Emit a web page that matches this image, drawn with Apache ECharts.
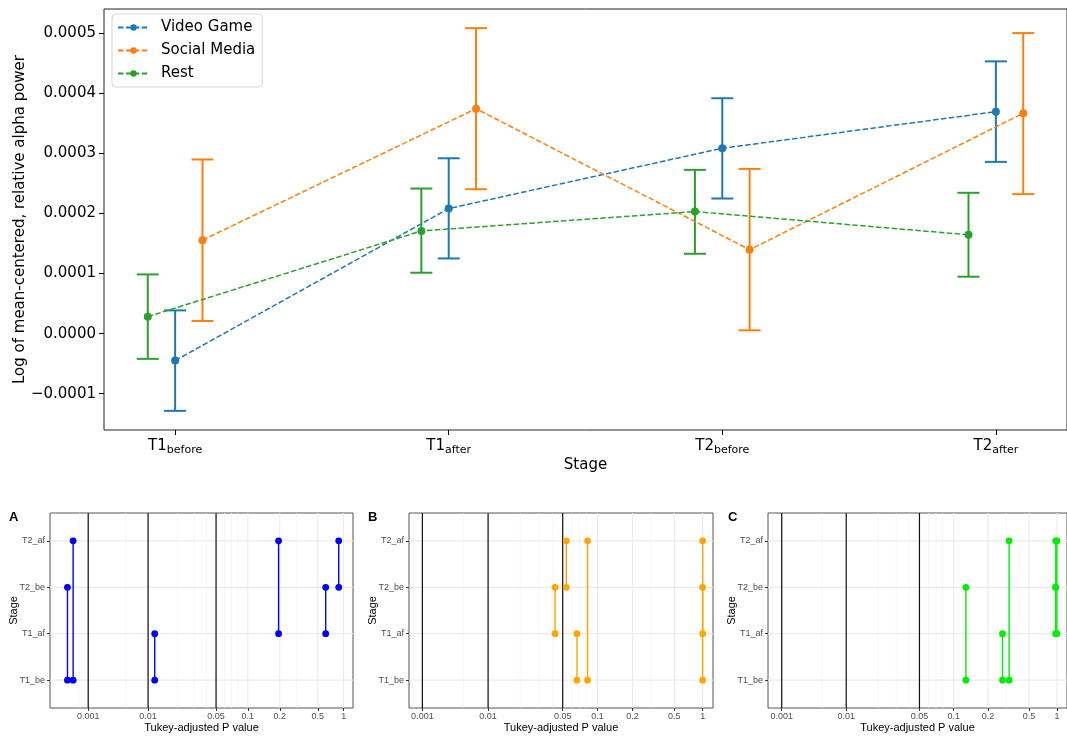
<!DOCTYPE html>
<html><head><meta charset="utf-8">
<script src="https://cdn.jsdelivr.net/npm/echarts@6/dist/echarts.min.js"></script>
<style>html,body{margin:0;padding:0;background:#fff}#c{width:1067px;height:740px}</style>
</head><body><div id="c"></div>
<script>
// ---------- top panel data ----------
const stageMain = ['T1', 'T1', 'T2', 'T2'];
const stageSub = ['before', 'after', 'before', 'after'];
const yTicks = [-0.0001, 0, 0.0001, 0.0002, 0.0003, 0.0004, 0.0005];
const groupNames = ['Video Game', 'Social Media', 'Rest'];

const videoMean = [-0.0000449, 0.0002083, 0.0003087, 0.0003696];
const videoLow  = [-0.0001286, 0.0001252, 0.0002250, 0.0002860];
const videoHigh = [ 0.0000387, 0.0002920, 0.0003920, 0.0004534];

const socialMean = [0.0001557, 0.0003746, 0.0001397, 0.0003670];
const socialLow  = [0.0000211, 0.0002405, 0.0000055, 0.0002323];
const socialHigh = [0.0002900, 0.0005087, 0.0002743, 0.0005005];

const restMean = [ 0.0000283, 0.0001710, 0.0002033, 0.0001646];
const restLow  = [-0.0000420, 0.0001014, 0.0001330, 0.0000948];
const restHigh = [ 0.0000986, 0.0002416, 0.0002727, 0.0002345];

// ---------- bottom panels data ----------
const stageCodes = ['T1_be', 'T1_af', 'T2_be', 'T2_af'];
const pairFrom = ['T1_be', 'T1_be', 'T1_be', 'T1_af', 'T1_af', 'T2_be'];
const pairTo   = ['T1_af', 'T2_be', 'T2_af', 'T2_be', 'T2_af', 'T2_af'];
const pVideo  = [0.0117, 0.00045, 0.00056, 0.618, 0.195, 0.877];
const pSocial = [0.0664, 0.998, 0.082, 0.0424, 0.999, 0.0537];
const pRest   = [0.276, 0.128, 0.320, 0.969, 1.0, 0.972];
const pTicks = [0.001, 0.01, 0.05, 0.1, 0.2, 0.5, 1];
const pTickLabels = ['0.001', '0.01', '0.05', '0.1', '0.2', '0.5', '1'];
const pThresholds = [0.001, 0.01, 0.05];
const pMinor = [0.000725, 0.0042, 0.02, 0.03, 0.04, 0.06, 0.07, 0.08, 0.3];
const panelLetters = ['A', 'B', 'C'];

// ---------- P-value scale (piecewise log transform of the original figure) ----------
const scaleAnchorsP = [0.001, 0.01, 0.05, 0.1, 0.2, 0.5, 1];
const scaleAnchorsT = [0, 65.8, 140.5, 175.4, 210.5, 252.3, 280.7];
function T(p) {
  const lp = Math.log10(p);
  const la = scaleAnchorsP.map(Math.log10);
  let k = 0;
  if (lp <= la[0]) k = 0;
  else if (lp >= la[la.length - 1]) k = la.length - 2;
  else { while (k < la.length - 2 && lp > la[k + 1]) k++; }
  const f = (lp - la[k]) / (la[k + 1] - la[k]);
  return scaleAnchorsT[k] + f * (scaleAnchorsT[k + 1] - scaleAnchorsT[k]);
}

const chart = echarts.init(document.getElementById('c'), null, {renderer: 'canvas'});
const DJ = 'DejaVu Sans';
const LS = 'Liberation Sans, Arial, sans-serif';

const topColors = ['#1f77b4', '#ff7f0e', '#2ca02c'];
const offsets = [0, 0.1, -0.1];
const means = [videoMean, socialMean, restMean];
const lows = [videoLow, socialLow, restLow];
const highs = [videoHigh, socialHigh, restHigh];

const grids = [
  {left: 104, top: 9, width: 970, height: 421, show: true, borderColor: '#222', borderWidth: 1},
  {left: 50, top: 513, width: 303, height: 195, show: true, borderColor: '#555', borderWidth: 1},
  {left: 409, top: 513, width: 304, height: 195, show: true, borderColor: '#555', borderWidth: 1},
  {left: 768, top: 513, width: 304, height: 195, show: true, borderColor: '#555', borderWidth: 1}
];

const xAxes = [{
  gridIndex: 0, type: 'value', min: -0.26, max: 3.26,
  axisLine: {show: false, onZero: false},
  splitLine: {show: false},
  axisTick: {show: true, customValues: [0, 1, 2, 3], length: 5, lineStyle: {color: '#000'}},
  axisLabel: {
    customValues: [0, 1, 2, 3], margin: 7,
    formatter: v => { const i = Math.round(v); return '{m|' + stageMain[i] + '}{s|' + stageSub[i] + '}'; },
    rich: {
      m: {fontSize: 15, fontFamily: DJ, color: '#000'},
      s: {fontSize: 11, fontFamily: DJ, color: '#000', padding: [8, 0, 0, 0]}
    }
  },
  name: 'Stage', nameLocation: 'middle', nameGap: 28, nameMoveOverlap: false,
  nameTextStyle: {fontSize: 15, fontFamily: DJ, color: '#000'}
}];
const yAxes = [{
  gridIndex: 0, type: 'value', min: -0.0001605, max: 0.0005406,
  axisLine: {show: false, onZero: false}, splitLine: {show: false},
  axisTick: {show: true, customValues: yTicks, length: 5, lineStyle: {color: '#000'}},
  axisLabel: {
    customValues: yTicks, margin: 8, fontSize: 15, fontFamily: DJ, color: '#000',
    formatter: v => (v < -1e-12 ? '\u2212' : '') + Math.abs(v).toFixed(4)
  },
  name: 'Log of mean-centered, relative alpha power', nameLocation: 'middle', nameGap: 76, nameMoveOverlap: false,
  nameTextStyle: {fontSize: 15, fontFamily: DJ, color: '#000'}
}];

const panelRanges = [[-42, 291], [-13.4, 291], [-14, 291]];
for (let k = 0; k < 3; k++) {
  xAxes.push({
    gridIndex: k + 1, type: 'value', min: panelRanges[k][0], max: panelRanges[k][1],
    axisLine: {show: false, onZero: false}, splitLine: {show: false},
    axisTick: {show: true, customValues: pTicks.map(T), length: 3, lineStyle: {color: '#333'}},
    axisLabel: {
      customValues: pTicks.map(T), margin: 4, fontSize: 9, fontFamily: LS, color: '#4d4d4d',
      formatter: v => { let best = 0; pTicks.forEach((p, i) => { if (Math.abs(T(p) - v) < Math.abs(T(pTicks[best]) - v)) best = i; }); return pTickLabels[best]; }
    },
    name: 'Tukey-adjusted P value', nameLocation: 'middle', nameGap: 14, nameMoveOverlap: false,
    nameTextStyle: {fontSize: 11, fontFamily: LS, color: '#000'}
  });
  yAxes.push({
    gridIndex: k + 1, type: 'value', min: 0.4, max: 4.6,
    axisLine: {show: false, onZero: false}, splitLine: {show: false},
    axisTick: {show: true, customValues: [1, 2, 3, 4], length: 3, lineStyle: {color: '#333'}},
    axisLabel: {
      customValues: [1, 2, 3, 4], margin: 5, fontSize: 9, fontFamily: LS, color: '#4d4d4d',
      formatter: v => stageCodes[Math.round(v) - 1]
    },
    name: 'Stage', nameLocation: 'middle', nameGap: 31, nameMoveOverlap: false,
    nameTextStyle: {fontSize: 11, fontFamily: LS, color: '#000'}
  });
}

const series = [];
// top: error bars and dashed lines
for (let g = 0; g < 3; g++) {
  const col = topColors[g];
  series.push({
    type: 'custom', name: groupNames[g] + ' error', xAxisIndex: 0, yAxisIndex: 0, z: 2,
    data: lows[g].map((lo, i) => [i + offsets[g], lo, highs[g][i]]),
    renderItem: (params, api) => {
      const x = api.value(0);
      const a = api.coord([x, api.value(1)]);
      const b = api.coord([x, api.value(2)]);
      const st = {stroke: col, lineWidth: 2};
      return {type: 'group', children: [
        {type: 'line', shape: {x1: a[0], y1: a[1], x2: b[0], y2: b[1]}, style: st},
        {type: 'line', shape: {x1: a[0] - 11, y1: a[1], x2: a[0] + 11, y2: a[1]}, style: st},
        {type: 'line', shape: {x1: b[0] - 11, y1: b[1], x2: b[0] + 11, y2: b[1]}, style: st}
      ]};
    }
  });
  series.push({
    type: 'line', name: groupNames[g], xAxisIndex: 0, yAxisIndex: 0, z: 3,
    data: means[g].map((v, i) => [i + offsets[g], v]),
    symbol: 'circle', symbolSize: 8, showSymbol: true,
    lineStyle: {color: col, width: 1.5, type: [5.5, 2.4]},
    itemStyle: {color: col},
    emphasis: {disabled: true}, animation: false
  });
}

// bottom panels
const panelP = [pVideo, pSocial, pRest];
const panelColors = ['#0000ff', '#ffa500', '#00ee00'];
for (let k = 0; k < 3; k++) {
  const ax = k + 1;
  const gridData = [];
  pMinor.forEach(p => gridData.push([0, T(p)]));
  pTicks.forEach(p => gridData.push([1, T(p)]));
  [1, 2, 3, 4].forEach(v => gridData.push([2, v]));
  series.push({
    type: 'custom', name: 'grid' + k, xAxisIndex: ax, yAxisIndex: ax, z: 1, silent: true,
    data: gridData,
    renderItem: (params, api) => {
      const cs = params.coordSys;
      const kind = api.value(0), v = api.value(1);
      if (kind === 2) {
        const p = api.coord([0, v]);
        return {type: 'line', shape: {x1: cs.x, y1: p[1], x2: cs.x + cs.width, y2: p[1]}, style: {stroke: '#ebebeb', lineWidth: 1.2}};
      }
      const p = api.coord([v, 1]);
      if (p[0] < cs.x || p[0] > cs.x + cs.width) return null;
      return {type: 'line', shape: {x1: p[0], y1: cs.y, x2: p[0], y2: cs.y + cs.height},
        style: {stroke: kind === 1 ? '#ebebeb' : '#f2f2f2', lineWidth: kind === 1 ? 1.1 : 0.7}};
    }
  });
  series.push({
    type: 'custom', name: 'thr' + k, xAxisIndex: ax, yAxisIndex: ax, z: 2, silent: true,
    data: pThresholds.map(p => [T(p)]),
    renderItem: (params, api) => {
      const cs = params.coordSys;
      const p = api.coord([api.value(0), 1]);
      return {type: 'line', shape: {x1: p[0], y1: cs.y, x2: p[0], y2: cs.y + cs.height}, style: {stroke: '#111', lineWidth: 1.2}};
    }
  });
  const col = panelColors[k];
  series.push({
    type: 'custom', name: 'cmp' + k, xAxisIndex: ax, yAxisIndex: ax, z: 3,
    data: panelP[k].map((p, i) => [T(p), stageCodes.indexOf(pairFrom[i]) + 1, stageCodes.indexOf(pairTo[i]) + 1]),
    renderItem: (params, api) => {
      const x = api.value(0);
      const a = api.coord([x, api.value(1)]);
      const b = api.coord([x, api.value(2)]);
      return {type: 'group', children: [
        {type: 'line', shape: {x1: a[0], y1: a[1], x2: b[0], y2: b[1]}, style: {stroke: col, lineWidth: 1.4}},
        {type: 'circle', shape: {cx: a[0], cy: a[1], r: 3.4}, style: {fill: col}},
        {type: 'circle', shape: {cx: b[0], cy: b[1], r: 3.4}, style: {fill: col}}
      ]};
    }
  });
}

const graphics = [];
const letterX = [9, 368, 728];
for (let k = 0; k < 3; k++) {
  graphics.push({type: 'text', left: letterX[k], top: 511,
    style: {text: panelLetters[k], font: 'bold 13px ' + LS, fill: '#000'}});
}

chart.setOption({
  animation: false,
  backgroundColor: '#fff',
  grid: grids,
  xAxis: xAxes,
  yAxis: yAxes,
  legend: {
    data: groupNames, left: 112, top: 14, orient: 'vertical',
    itemWidth: 31, itemHeight: 8, itemGap: 8,
    textStyle: {fontSize: 15, fontFamily: DJ, color: '#000', padding: [0, 0, 0, 7]},
    backgroundColor: 'rgba(255,255,255,0.85)', borderColor: '#d5d5d5', borderWidth: 1, borderRadius: 4,
    padding: [6, 7, 6, 5]
  },
  series: series,
  graphic: graphics
});
</script>
</body></html>
